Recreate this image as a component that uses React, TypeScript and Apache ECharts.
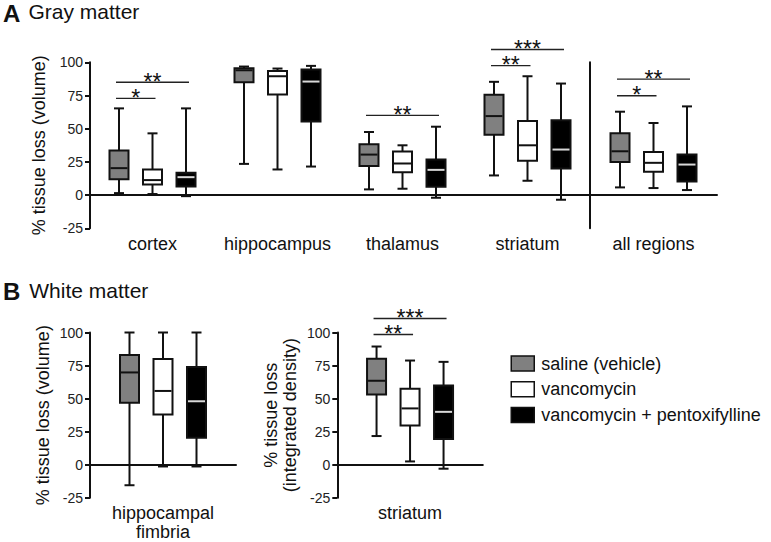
import React, { useEffect, useRef } from "react";
import * as echarts from "echarts";

// ---------- data ----------
const treatments = ["saline (vehicle)", "vancomycin", "vancomycin + pentoxifylline"];
const grayMatterRegions = ["cortex", "hippocampus", "thalamus", "striatum"];
const allRegionsCategory = ["all regions"];
const fimbriaCategory = ["hippocampal\nfimbria"];
const whiteStriatumCategory = ["striatum"];

// box values: [min, q1, median, q3, max]
const salineGM = [
  [1.5, 12, 20.3, 33.5, 65.3],
  [23.5, 85, 94, 95.5, 96.8],
  [4.3, 22, 30.5, 38.3, 47.5],
  [14.8, 45.5, 59.5, 75.5, 85.3],
];
const vancoGM = [
  [0.8, 8, 11.3, 19.3, 46.5],
  [19.3, 75.8, 89.5, 93.5, 95.3],
  [4.8, 17.3, 23.8, 32.8, 37.5],
  [10.8, 25.8, 37.5, 55.8, 89.5],
];
const vancoPtxGM = [
  [-0.8, 6.5, 13.5, 16.8, 65.3],
  [21.5, 55.5, 85.5, 94.5, 97.3],
  [-2, 6.3, 19, 26.8, 51.5],
  [-3.5, 20, 34.3, 56.3, 84],
];
const salineAll = [[5.8, 25, 33, 46.5, 62.8]];
const vancoAll = [[5.3, 17.5, 24.3, 32.5, 54.3]];
const vancoPtxAll = [[3.8, 10.3, 23, 30.5, 66.8]];

const salineFimbria = [[-15.5, 46.8, 69.8, 83, 100]];
const vancoFimbria = [[-1.3, 38, 55.8, 80, 100]];
const vancoPtxFimbria = [[-1.3, 20.5, 48, 74, 100]];

const salineWMStriatum = [[21.7, 53.1, 63.5, 80.1, 89.4]];
const vancoWMStriatum = [[2.5, 29.7, 42.6, 57.4, 78.8]];
const vancoPtxWMStriatum = [[-3, 19.4, 40, 60, 77.8]];

// significance: [categoryIndex, fromTreatment, toTreatment, yValue, label]
const sigGM: [number, number, number, number, string][] = [
  [0, 0, 2, 85, "**"],
  [0, 0, 1, 72.8, "*"],
  [2, 0, 2, 60, "**"],
  [3, 0, 2, 109.6, "***"],
  [3, 0, 1, 97.5, "**"],
];
const sigAll: [number, number, number, number, string][] = [
  [0, 0, 2, 87.3, "**"],
  [0, 0, 1, 74.8, "*"],
];
const sigWMStriatum: [number, number, number, number, string][] = [
  [0, 0, 2, 110.6, "***"],
  [0, 0, 1, 98.5, "**"],
];

// ---------- styles ----------
const FONT = "'Liberation Sans', Arial, Helvetica, sans-serif";
const INK = "#111";
const fills = ["#808080", "#ffffff", "#000000"];
const medianColors = ["#111111", "#111111", "#d8d8d8"];
const BOX_STEP = 33.5;
const BOX_W = 19;
const CAP_W = 10;

function boxSeries(tIdx: number, values: number[][], axisIdx: number) {
  return {
    type: "custom",
    name: treatments[tIdx],
    xAxisIndex: axisIdx,
    yAxisIndex: axisIdx,
    silent: true,
    clip: false,
    itemStyle: { color: fills[tIdx], borderColor: INK },
    encode: { x: 0, y: [1, 2, 3, 4, 5] },
    data: values.map((v, i) => [i, ...v]),
    renderItem: (_params: any, api: any) => {
      const cat = api.value(0);
      const pt = (v: number) => api.coord([cat, v]);
      const cx = pt(api.value(1))[0] + (tIdx - 1) * BOX_STEP;
      const yMin = pt(api.value(1))[1];
      const yQ1 = pt(api.value(2))[1];
      const yMed = pt(api.value(3))[1];
      const yQ3 = pt(api.value(4))[1];
      const yMax = pt(api.value(5))[1];
      const ls = { stroke: INK, lineWidth: 2 };
      return {
        type: "group",
        children: [
          { type: "line", shape: { x1: cx, y1: yMax, x2: cx, y2: yQ3 }, style: ls },
          { type: "line", shape: { x1: cx, y1: yQ1, x2: cx, y2: yMin }, style: ls },
          { type: "line", shape: { x1: cx - CAP_W / 2, y1: yMax, x2: cx + CAP_W / 2, y2: yMax }, style: ls },
          { type: "line", shape: { x1: cx - CAP_W / 2, y1: yMin, x2: cx + CAP_W / 2, y2: yMin }, style: ls },
          {
            type: "rect",
            shape: { x: cx - BOX_W / 2, y: yQ3, width: BOX_W, height: yQ1 - yQ3 },
            style: { fill: fills[tIdx], stroke: INK, lineWidth: 2 },
          },
          {
            type: "line",
            shape: { x1: cx - BOX_W / 2 + 1, y1: yMed, x2: cx + BOX_W / 2 - 1, y2: yMed },
            style: { stroke: medianColors[tIdx], lineWidth: 2 },
          },
        ],
      };
    },
  };
}

function sigSeries(rows: [number, number, number, number, string][], axisIdx: number) {
  return {
    type: "custom",
    xAxisIndex: axisIdx,
    yAxisIndex: axisIdx,
    silent: true,
    clip: false,
    encode: { x: 0, y: 3 },
    data: rows.map((r) => [r[0], r[1], r[2], r[3]]),
    renderItem: (params: any, api: any) => {
      const cat = api.value(0);
      const p = api.coord([cat, api.value(3)]);
      const x1 = p[0] + (api.value(1) - 1) * BOX_STEP - 3;
      const x2 = p[0] + (api.value(2) - 1) * BOX_STEP + 3;
      const y = p[1];
      return {
        type: "group",
        children: [
          { type: "line", shape: { x1, y1: y, x2, y2: y }, style: { stroke: "#222", lineWidth: 1.4 } },
          {
            type: "text",
            style: {
              text: rows[params.dataIndex][4],
              x: (x1 + x2) / 2,
              y: y - 0.5,
              align: "center",
              verticalAlign: "middle",
              fontSize: 23,
              fontFamily: FONT,
              fill: INK,
            },
          },
        ],
      };
    },
  };
}

function yAxisDef(gridIdx: number, name: string | null, showLabels: boolean) {
  return {
    type: "value",
    gridIndex: gridIdx,
    min: -25,
    max: 100,
    interval: 25,
    name: name || undefined,
    nameLocation: "middle",
    nameGap: 37.5,
    nameTextStyle: { fontSize: 18, color: INK, fontFamily: FONT, lineHeight: 19 },
    axisLine: { show: true, lineStyle: { color: INK, width: 2 } },
    axisTick: { show: showLabels, length: 5, lineStyle: { color: INK, width: 2 } },
    axisLabel: { show: showLabels, fontSize: 14, color: "#222", margin: 7, fontFamily: FONT },
    splitLine: { show: false },
  };
}

function xAxisDef(gridIdx: number, cats: string[]) {
  return {
    type: "category",
    gridIndex: gridIdx,
    data: cats,
    axisLine: { show: true, lineStyle: { color: INK, width: 2 } },
    axisTick: { show: false },
    axisLabel: { fontSize: 18, color: INK, margin: 6, fontFamily: FONT, lineHeight: 19, interval: 0 },
    splitLine: { show: false },
  };
}

export default function App() {
  const ref = useRef<HTMLDivElement>(null);
  useEffect(() => {
    if (!ref.current) return;
    const chart = echarts.init(ref.current, undefined, { renderer: "svg" });
    const panels = [
      [salineGM, vancoGM, vancoPtxGM],
      [salineAll, vancoAll, vancoPtxAll],
      [salineFimbria, vancoFimbria, vancoPtxFimbria],
      [salineWMStriatum, vancoWMStriatum, vancoPtxWMStriatum],
    ];
    const series: any[] = [];
    panels.forEach((p, gi) => p.forEach((vals, ti) => series.push(boxSeries(ti, vals, gi))));
    series.push(sigSeries(sigGM, 0));
    series.push(sigSeries(sigAll, 1));
    series.push(sigSeries(sigWMStriatum, 3));

    chart.setOption({
      animation: false,
      backgroundColor: "#ffffff",
      textStyle: { fontFamily: FONT },
      grid: [
        { left: 90, top: 62.3, width: 500, height: 166, outerBoundsMode: "none" },
        { left: 590, top: 62.3, width: 127, height: 166, outerBoundsMode: "none" },
        { left: 90, top: 332.5, width: 146, height: 165.3, outerBoundsMode: "none" },
        { left: 337.3, top: 332.5, width: 145.5, height: 165.3, outerBoundsMode: "none" },
      ],
      xAxis: [
        xAxisDef(0, grayMatterRegions),
        xAxisDef(1, allRegionsCategory),
        xAxisDef(2, fimbriaCategory),
        xAxisDef(3, whiteStriatumCategory),
      ],
      yAxis: [
        yAxisDef(0, "% tissue loss (volume)", true),
        yAxisDef(1, null, false),
        yAxisDef(2, "% tissue loss (volume)", true),
        yAxisDef(3, "% tissue loss\n(integrated density)", true),
      ],
      legend: {
        left: 510.5,
        top: 354.5,
        padding: 0,
        orient: "vertical",
        itemWidth: 23,
        itemHeight: 15,
        itemGap: 7.7,
        selectedMode: false,
        textStyle: { fontSize: 18, color: INK, fontFamily: FONT, padding: [0, 0, 0, 2] },
        data: treatments.map((n, i) => ({
          name: n,
          icon: "rect",
          itemStyle: { color: fills[i], borderColor: INK, borderWidth: 1.5 },
        })),
      },
      graphic: [
        { type: "text", left: 3, top: 1, style: { text: "A", fontSize: 24, fontWeight: "bold", fontFamily: FONT, fill: INK } },
        { type: "text", left: 28.5, top: 1, style: { text: "Gray matter", fontSize: 21, fontFamily: FONT, fill: INK } },
        { type: "text", left: 3, top: 279.5, style: { text: "B", fontSize: 24, fontWeight: "bold", fontFamily: FONT, fill: INK } },
        { type: "text", left: 29.3, top: 279.5, style: { text: "White matter", fontSize: 21, fontFamily: FONT, fill: INK } },
      ],
      series,
    });
    return () => chart.dispose();
  }, []);
  return (
    <div
      ref={ref}
      style={{ position: "fixed", left: 0, top: 0, width: 771, height: 542, background: "#fff" }}
    />
  );
}
